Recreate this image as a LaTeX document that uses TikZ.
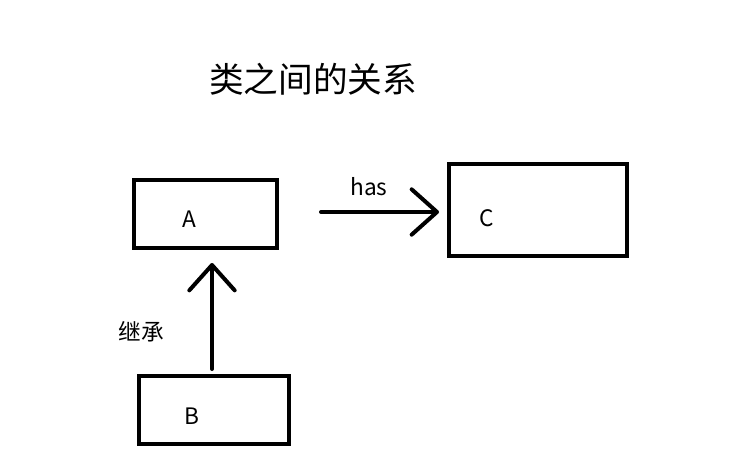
\documentclass[tikz,border=0pt]{standalone}
\usepackage{fontspec}
\setmainfont{Noto Sans CJK SC}
\usepackage{tikz}
\usetikzlibrary{arrows.meta,positioning}

\begin{document}
\begin{tikzpicture}[
  x=0.75pt,y=-0.75pt,
  every node/.style={font=\fontsize{17}{20}\selectfont},
  cls/.style={draw=black,line width=3pt,inner sep=0pt},
  lbl/.style={inner sep=0pt},
  arr/.style={line width=3pt,line cap=round,-{Straight Barb[length=19pt,width=34pt,line width=3pt,round]}}
]
\useasboundingbox (0,0) rectangle (752,475);
\node[lbl,font=\fontsize{26}{30}\selectfont] (title) at (313,79) {类之间的关系};
% classes
\node[cls,minimum width=107pt,minimum height=51pt] (boxA) at (205.5,213.5) {};
\node[cls,minimum width=133pt,minimum height=69pt] (boxC) at (538,209.5) {};
\node[cls,minimum width=112pt,minimum height=51pt] (boxB) at (214,409.5) {};
\node[lbl] (labA) at (189,219) {A};
\node[lbl] (labC) at (487,218) {C};
\node[lbl] (labB) at (192,416) {B};
% relations
\coordinate (hasS) at (321,212);
\coordinate (hasE) at (439,212);
\draw[arr] (hasS) -- (hasE);
\node[lbl] (has) at (369,187) {has};
\coordinate (inhS) at (212,369);
\coordinate (inhE) at (212,263);
\draw[arr] (inhS) -- (inhE);
\node[lbl,font=\fontsize{17}{20}\selectfont] (inh) at (141,332) {继承};
\end{tikzpicture}
\end{document}
